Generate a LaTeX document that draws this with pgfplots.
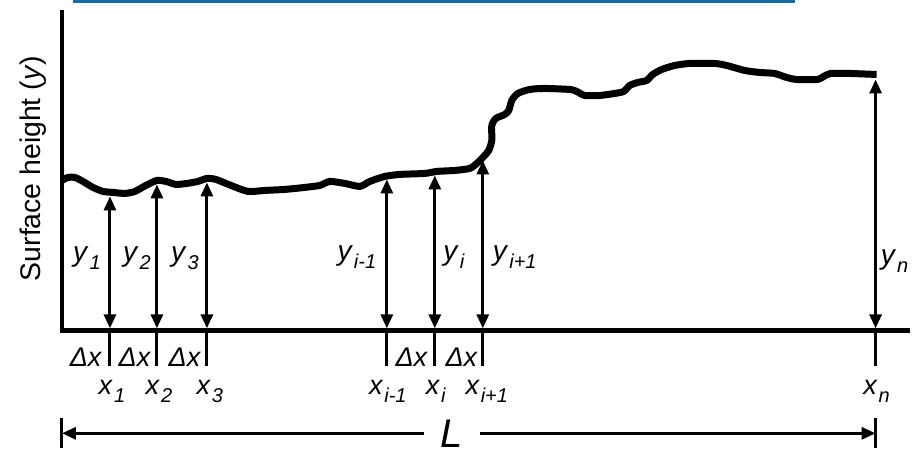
\documentclass[border=0pt]{standalone}
\usepackage{pgfplots}
\pgfplotsset{compat=1.18}
\usepackage{fontspec}
\setmainfont{Liberation Sans}
\usetikzlibrary{arrows.meta}

\definecolor{ruleblue}{RGB}{30,106,150}

% italic variable with a lowered italic index
\newcommand{\var}[2]{\textit{#1}\kern0.5pt\raisebox{-3.8pt}{\fontsize{10}{11}\selectfont\itshape #2}}

\tikzset{
  dim/.style={line width=1.5pt,
    {Triangle[length=7pt,width=6pt]}-{Triangle[length=7pt,width=6pt]}},
  tick/.style={line width=1.5pt},
  ylab/.style={font=\fontsize{14}{15}\selectfont, inner sep=0pt},
  xlab/.style={font=\fontsize{13.5}{14}\selectfont, inner sep=0pt},
}

\begin{document}
\begin{tikzpicture}
\begin{axis}[
  scale only axis, width=424pt, height=160pt,
  xmin=62, xmax=910, ymin=0, ymax=320,
  hide axis, clip=false,
]
% page extent
\path (axis cs:0,-125) rectangle (axis cs:912,330);

% rule along the top edge
\draw[line width=1.5pt, ruleblue] (axis cs:73,329) -- (axis cs:795,329);

% axes
\draw[line width=2.4pt, line join=miter] (axis cs:62,320) -- (axis cs:62,0) -- (axis cs:910,0);

% surface profile
\addplot[line width=3.5pt, line join=round, smooth, tension=0.4] coordinates {
  (62,150) (68,153) (75,153) (83,149) (93,143) (103,139) (113,138)
  (125,137) (135,139) (146,145) (157,150) (166,149) (176,146) (187,147)
  (198,149) (207,152) (216,151) (231,145) (248,139) (265,140) (285,141)
  (305,143) (320,145) (330,149) (345,147) (360,144) (370,149) (385,154)
  (400,156) (425,157) (437,159) (455,160) (470,162) (477,167) (484,174)
  (489,180) (492,190) (492,205) (496,212) (505,216) (509,220) (512,230)
  (518,237) (530,241) (545,242) (570,241) (577,239) (585,235) (600,235)
  (615,237) (624,239) (630,245) (638,248) (647,250) (653,256) (662,261)
  (675,265) (690,267) (715,267) (727,265) (745,260) (760,258) (775,257)
  (787,253) (797,251) (818,251) (824,254) (831,257) (850,257) (877,256)
};

% sampling heights
\draw[dim] (axis cs:110,2) -- (axis cs:110,134);
\draw[dim] (axis cs:157,2) -- (axis cs:157,146);
\draw[dim] (axis cs:207,2) -- (axis cs:207,148);
\draw[dim] (axis cs:387,2) -- (axis cs:387,151);
\draw[dim] (axis cs:435,2) -- (axis cs:435,155);
\draw[dim] (axis cs:483,2) -- (axis cs:483,170);
\draw[dim] (axis cs:876,2) -- (axis cs:876,251);

% sampling positions below the base line
\draw[tick] (axis cs:110,0) -- (axis cs:110,-36);
\draw[tick] (axis cs:157,0) -- (axis cs:157,-36);
\draw[tick] (axis cs:207,0) -- (axis cs:207,-36);
\draw[tick] (axis cs:387,0) -- (axis cs:387,-36);
\draw[tick] (axis cs:435,0) -- (axis cs:435,-36);
\draw[tick] (axis cs:483,0) -- (axis cs:483,-36);
\draw[tick] (axis cs:876,0) -- (axis cs:876,-36);

% height labels
\node[ylab] at (axis cs:87,72) {\var{y}{1}};
\node[ylab] at (axis cs:137,72) {\var{y}{2}};
\node[ylab] at (axis cs:185,72) {\var{y}{3}};
\node[ylab] at (axis cs:357,73) {\var{y}{i-1}};
\node[ylab] at (axis cs:454,73) {\var{y}{i}};
\node[ylab] at (axis cs:515,73) {\var{y}{i+1}};
\node[ylab] at (axis cs:895,69) {\var{y}{n}};

% spacing labels
\node[xlab] at (axis cs:86,-27) {\textit{Δx}};
\node[xlab] at (axis cs:135,-27) {\textit{Δx}};
\node[xlab] at (axis cs:185,-27) {\textit{Δx}};
\node[xlab] at (axis cs:412,-27) {\textit{Δx}};
\node[xlab] at (axis cs:462,-27) {\textit{Δx}};

% position labels
\node[xlab] at (axis cs:112,-61) {\var{x}{1}};
\node[xlab] at (axis cs:159,-61) {\var{x}{2}};
\node[xlab] at (axis cs:210,-61) {\var{x}{3}};
\node[xlab] at (axis cs:388,-61) {\var{x}{i-1}};
\node[xlab] at (axis cs:436,-61) {\var{x}{i}};
\node[xlab] at (axis cs:487,-61) {\var{x}{i+1}};
\node[xlab] at (axis cs:877,-61) {\var{x}{n}};

% sampling length
\draw[line width=1.5pt] (axis cs:62,-88) -- (axis cs:62,-118);
\draw[line width=1.5pt] (axis cs:876,-88) -- (axis cs:876,-118);
\draw[line width=1.5pt, -{Triangle[length=7pt,width=6pt]}] (axis cs:424,-103) -- (axis cs:62,-103);
\draw[line width=1.5pt, -{Triangle[length=7pt,width=6pt]}] (axis cs:480,-103) -- (axis cs:876,-103);
\node[font=\fontsize{20}{22}\selectfont\itshape, inner sep=0pt] at (axis cs:452,-103) {L};

% vertical axis title
\node[rotate=90, font=\fontsize{14.2}{16}\selectfont, inner sep=0pt] at (axis cs:33,162) {Surface height (\textit{y})};
\end{axis}
\end{tikzpicture}
\end{document}
